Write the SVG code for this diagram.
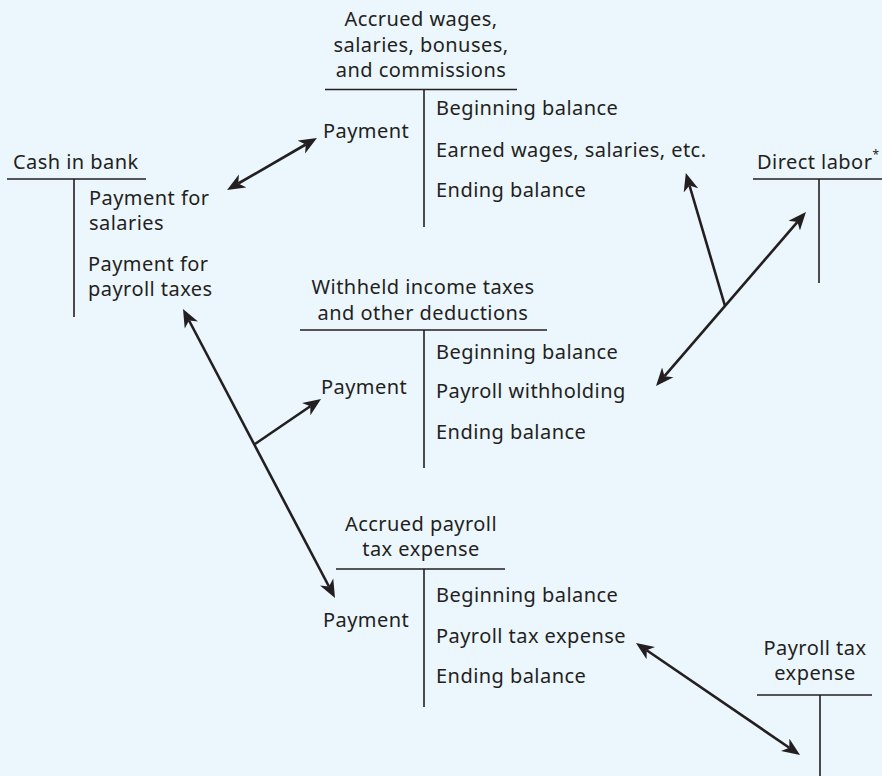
<svg xmlns="http://www.w3.org/2000/svg" width="882" height="776" viewBox="0 0 882 776">
<defs>
<style>
text{font-family:"Noto Sans","Open Sans","DejaVu Sans",sans-serif;font-size:20px;letter-spacing:0.45px;fill:#231f20}
.c{text-anchor:middle}
.t{stroke:#231f20;stroke-width:1.6;fill:none}
.a{stroke:#231f20;stroke-width:2.6;fill:none;marker-end:url(#ah)}
.d{marker-start:url(#ah)}
</style>
<marker id="ah" markerUnits="userSpaceOnUse" markerWidth="20" markerHeight="16" viewBox="0 -8 20 16" refX="5" refY="0" orient="auto-start-reverse">
<path d="M18,0 L0,-7.5 L5,0 L0,7.5 Z" fill="#231f20"/>
</marker>
</defs>
<rect width="882" height="776" fill="#ecf6fd"/>
<g id="cash-in-bank">
<text x="13" y="169">Cash in bank</text>
<path class="t" d="M7,179H146M74,179V317"/>
<text x="89" y="205">Payment for</text>
<text x="89" y="230">salaries</text>
<text x="88" y="271">Payment for</text>
<text x="88" y="296">payroll taxes</text>
</g>
<g id="accrued-wages">
<text class="c" x="421" y="26">Accrued wages,</text>
<text class="c" x="421" y="52">salaries, bonuses,</text>
<text class="c" x="421" y="77">and commissions</text>
<path class="t" d="M325,89.5H517M424,89.5V227"/>
<text x="323" y="138">Payment</text>
<text x="436" y="115">Beginning balance</text>
<text x="436" y="157">Earned wages, salaries, etc.</text>
<text x="436" y="197">Ending balance</text>
</g>
<g id="direct-labor">
<text x="757" y="169">Direct labor<tspan font-size="12" dy="-10">*</tspan></text>
<path class="t" d="M753,179H882M819,179V283"/>
</g>
<g id="withheld-taxes">
<text class="c" x="423" y="294">Withheld income taxes</text>
<text class="c" x="423" y="320">and other deductions</text>
<path class="t" d="M300,330H547M424,330V468"/>
<text x="321" y="394">Payment</text>
<text x="436" y="359">Beginning balance</text>
<text x="436" y="398">Payroll withholding</text>
<text x="436" y="439">Ending balance</text>
</g>
<g id="accrued-payroll-tax">
<text class="c" x="421" y="531">Accrued payroll</text>
<text class="c" x="421" y="556">tax expense</text>
<path class="t" d="M336,569H505M424,569V707"/>
<text x="323" y="627">Payment</text>
<text x="436" y="602">Beginning balance</text>
<text x="436" y="643">Payroll tax expense</text>
<text x="436" y="683">Ending balance</text>
</g>
<g id="payroll-tax-expense">
<text class="c" x="815" y="655">Payroll tax</text>
<text class="c" x="815" y="680">expense</text>
<path class="t" d="M757,695H872M820,695V776"/>
</g>
<g id="connectors">
<path class="a d" d="M238.3,183.5L305.7,144.5"/>
<path class="a d" d="M189.05,320.5L328.95,586.5"/>
<path class="a" d="M255,444L310.3,406.3"/>
<path class="a d" d="M664.5,376.2L797.5,221.9"/>
<path class="a" d="M725,306L689.5,185.5"/>
<path class="a d" d="M646.7,650.3L789.3,747.7"/>
</g>
</svg>
